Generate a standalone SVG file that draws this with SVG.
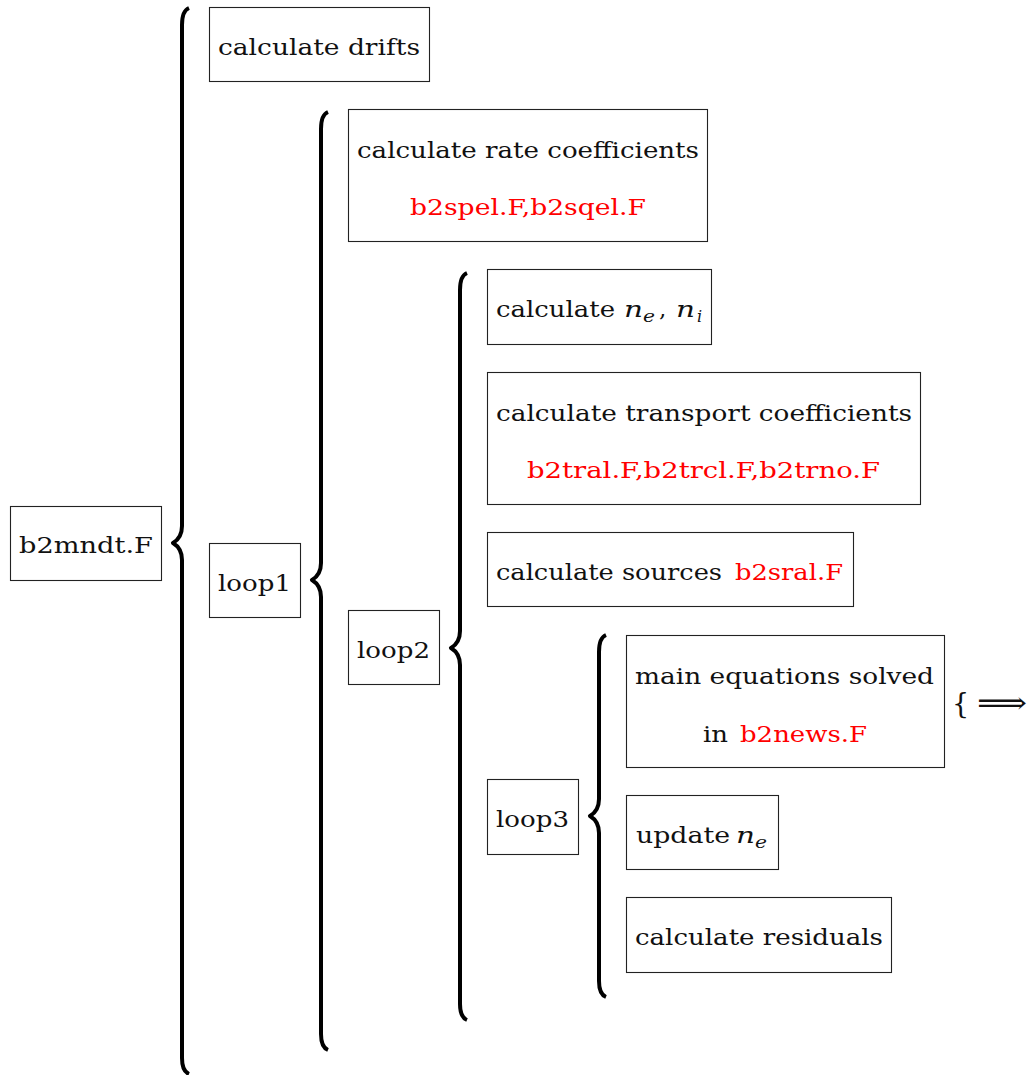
<svg xmlns="http://www.w3.org/2000/svg" width="1030" height="1075" viewBox="0 0 1030 1075">
<style>
.box{fill:#fff;stroke:#222;stroke-width:1.1}
text{font-family:'DejaVu Serif','Liberation Serif',serif;font-size:23px;fill:#111}
.r{fill:#ff0000}
.m{font-style:italic}
.s{font-size:16px;font-style:italic}
.brace{fill:none;stroke:#000;stroke-width:4;stroke-linecap:butt;stroke-linejoin:round}
</style>
<rect width="1030" height="1075" fill="#fff"/>
<g id="connectors">
<path class="brace" d="M189,8 C184,10 182,15 182,25 L182,526 C182,535 178,540 173,543 C178,546 182,551 182,560 L182,1058 C182,1067 184,1072 189,1074"/>
<path class="brace" d="M328,112 C323,114 321,119 321,129 L321,563 C321,572 317,577 312,580 C317,583 321,588 321,597 L321,1034 C321,1043 323,1048 328,1050"/>
<path class="brace" d="M467,273 C462,275 460,280 460,290 L460,631 C460,640 456,645 451,648 C456,651 460,656 460,665 L460,1004 C460,1013 462,1018 467,1020"/>
<path class="brace" d="M606,635 C601,637 599,642 599,652 L599,799 C599,808 595,813 590,816 C595,819 599,824 599,833 L599,981 C599,990 601,995 606,997"/>
</g>
<g id="b2mndt">
<rect class="box" x="10.5" y="506.5" width="151" height="74"/>
<text x="19" y="553" textLength="134" lengthAdjust="spacingAndGlyphs">b2mndt.F</text>
</g>
<g id="drifts">
<rect class="box" x="209.5" y="7.5" width="220" height="74"/>
<text x="218" y="55" textLength="202" lengthAdjust="spacingAndGlyphs">calculate drifts</text>
</g>
<g id="loop1">
<rect class="box" x="209.5" y="543.5" width="91" height="74"/>
<text x="218" y="591" textLength="73" lengthAdjust="spacingAndGlyphs">loop1</text>
</g>
<g id="rate">
<rect class="box" x="348.5" y="109.5" width="359" height="132"/>
<text x="357" y="158" textLength="342" lengthAdjust="spacingAndGlyphs">calculate rate coefficients</text>
<text class="r" x="410" y="215" textLength="236" lengthAdjust="spacingAndGlyphs">b2spel.F,b2sqel.F</text>
</g>
<g id="loop2">
<rect class="box" x="348.5" y="610.5" width="91" height="74"/>
<text x="357" y="658" textLength="73" lengthAdjust="spacingAndGlyphs">loop2</text>
</g>
<g id="densities">
<rect class="box" x="487.5" y="269.5" width="224" height="75"/>
<text x="496" y="317" textLength="119" lengthAdjust="spacingAndGlyphs">calculate</text>
<text class="m" x="624" y="317" textLength="19" lengthAdjust="spacingAndGlyphs">n</text>
<text class="s" x="643" y="322" textLength="12" lengthAdjust="spacingAndGlyphs">e</text>
<text x="659" y="317">,</text>
<text class="m" x="676" y="317" textLength="19" lengthAdjust="spacingAndGlyphs">n</text>
<text class="s" x="697" y="322">i</text>
</g>
<g id="transport">
<rect class="box" x="487.5" y="372.5" width="433" height="132"/>
<text x="496" y="421" textLength="416" lengthAdjust="spacingAndGlyphs">calculate transport coefficients</text>
<text class="r" x="527" y="478" textLength="353" lengthAdjust="spacingAndGlyphs">b2tral.F,b2trcl.F,b2trno.F</text>
</g>
<g id="sources">
<rect class="box" x="487.5" y="532.5" width="366" height="74"/>
<text x="496" y="580" textLength="226" lengthAdjust="spacingAndGlyphs">calculate sources</text>
<text class="r" x="735" y="580" textLength="108" lengthAdjust="spacingAndGlyphs">b2sral.F</text>
</g>
<g id="loop3">
<rect class="box" x="487.5" y="779.5" width="91" height="75"/>
<text x="496" y="827" textLength="73" lengthAdjust="spacingAndGlyphs">loop3</text>
</g>
<g id="main">
<rect class="box" x="626.5" y="635.5" width="318" height="132"/>
<text x="635" y="684" textLength="299" lengthAdjust="spacingAndGlyphs">main equations solved</text>
<text x="703" y="742" textLength="25" lengthAdjust="spacingAndGlyphs">in</text>
<text class="r" x="740" y="742" textLength="127" lengthAdjust="spacingAndGlyphs">b2news.F</text>
<text x="952" y="713" style="font-size:27px">{</text>
<text x="977" y="713" style="font-size:30px" textLength="50" lengthAdjust="spacingAndGlyphs">⟹</text>
</g>
<g id="update">
<rect class="box" x="626.5" y="795.5" width="152" height="74"/>
<text x="636" y="843" textLength="94" lengthAdjust="spacingAndGlyphs">update</text>
<text class="m" x="736" y="843" textLength="19" lengthAdjust="spacingAndGlyphs">n</text>
<text class="s" x="755" y="848" textLength="12" lengthAdjust="spacingAndGlyphs">e</text>
</g>
<g id="residuals">
<rect class="box" x="626.5" y="897.5" width="265" height="75"/>
<text x="635" y="945" textLength="248" lengthAdjust="spacingAndGlyphs">calculate residuals</text>
</g>
</svg>
